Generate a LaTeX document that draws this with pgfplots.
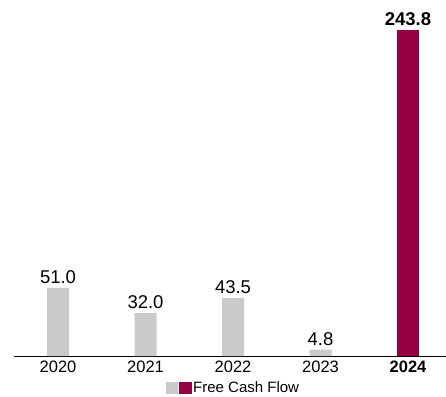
\documentclass[border=0pt]{standalone}
\usepackage{pgfplots}
\pgfplotsset{compat=1.18}
\usepackage{fontspec}
\setmainfont{Liberation Sans}
\definecolor{fcgray}{HTML}{CACACA}
\definecolor{fcred}{HTML}{970043}
\begin{document}
\begin{tikzpicture}
\path[use as bounding box] (-14bp,-41bp) rectangle (432bp,356bp);
\begin{axis}[
  scale only axis,
  width=432bp, height=356bp,
  xmin=-0.503, xmax=4.434,
  ymin=0, ymax=266.2,
  axis x line*=bottom,
  axis y line=none,
  axis line style={black, line width=1bp, -},
  xtick={0,1,2,3,4},
  xticklabels={2020,2021,2022,2023,\textbf{2024}},
  major tick length=0pt,
  xticklabel style={font=\fontsize{16.5bp}{19bp}\selectfont, anchor=base, yshift=-16bp, inner sep=0pt},
  ytick=\empty,
  ybar, bar width=22bp, bar shift=0pt,
  nodes near coords={\pgfmathprintnumber[fixed,fixed zerofill,precision=1,assume math mode=true]{\pgfplotspointmeta}},
  nodes near coords style={font=\fontsize{18.5bp}{21bp}\selectfont, anchor=base, inner sep=0pt, yshift=4.5bp, black},
  legend style={at={(axis description cs:0.508,0)}, yshift=-32bp, anchor=center, draw=none, fill=none,
     font=\fontsize{15bp}{17bp}\selectfont, inner sep=0pt, /tikz/every even column/.append style={column sep=1bp}},
  legend cell align=left,
]
\addplot[fill=fcgray, draw=none, forget plot] coordinates {(0,51.0) (1,32.0) (2,43.5) (3,4.8)};
\addplot[fill=fcred, draw=none, forget plot, nodes near coords style={font=\fontsize{18.5bp}{21bp}\selectfont\bfseries}] coordinates {(4,243.8)};
\addlegendimage{legend image code/.code={
  \fill[fcgray] (0bp,-5.5bp) rectangle (11bp,5.5bp);
  \fill[fcred] (13bp,-5.5bp) rectangle (25bp,5.5bp);}}
\addlegendentry{Free Cash Flow}
\end{axis}
\end{tikzpicture}
\end{document}
